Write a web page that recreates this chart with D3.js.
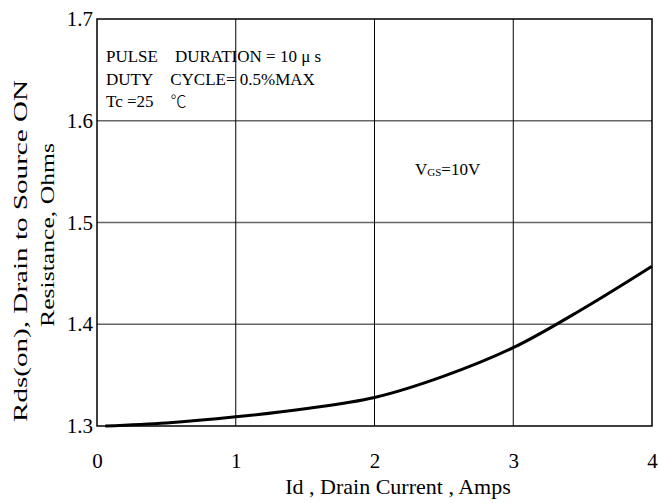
<!DOCTYPE html>
<html>
<head>
<meta charset="utf-8">
<script src="https://cdn.jsdelivr.net/npm/d3@7"></script>
<style>
  body { margin: 0; background: #fff; }
  svg text { font-family: "Liberation Serif", "Times New Roman", serif; fill: #000; }
</style>
</head>
<body>
<div id="chart"></div>
<script>
"use strict";

/* Values */
const xTicks = [0, 1, 2, 3, 4];
const yTicks = [1.3, 1.4, 1.5, 1.6, 1.7];
const drainCurrent = [0.06, 0.5, 1.0, 1.5, 2.0, 2.5, 3.0, 3.5, 4.0];
const rdsOn = [1.300, 1.303, 1.309, 1.317, 1.328, 1.349, 1.377, 1.415, 1.457];

const width = 659, height = 503;
const margin = { top: 19, right: 7, bottom: 77, left: 97 };

const svg = d3.select("#chart")
  .append("svg")
  .attr("width", width)
  .attr("height", height);

const x = d3.scaleLinear()
  .domain([0, 4])
  .range([margin.left, width - margin.right]);

const y = d3.scaleLinear()
  .domain([1.3, 1.7])
  .range([height - margin.bottom, margin.top]);

// grid: horizontal lines grey, vertical ones black
svg.append("g")
  .selectAll("line")
  .data(yTicks.slice(1, -1))
  .enter()
  .append("line")
  .attr("x1", x(0)).attr("x2", x(4))
  .attr("y1", d => y(d)).attr("y2", d => y(d))
  .attr("stroke", "#666")
  .attr("stroke-width", 1.3);

svg.append("g")
  .selectAll("line")
  .data(xTicks.slice(1, -1))
  .enter()
  .append("line")
  .attr("x1", d => x(d)).attr("x2", d => x(d))
  .attr("y1", y(1.3)).attr("y2", y(1.7))
  .attr("stroke", "#000")
  .attr("stroke-width", 1);

// frame
svg.append("rect")
  .attr("x", x(0))
  .attr("y", y(1.7))
  .attr("width", x(4) - x(0))
  .attr("height", y(1.3) - y(1.7))
  .attr("fill", "none")
  .attr("stroke", "#000")
  .attr("stroke-width", 1.5);

// axes, only the labels are kept
const xAxis = svg.append("g")
  .attr("transform", `translate(0,${y(1.3)})`)
  .call(d3.axisBottom(x).tickValues(xTicks).tickFormat(d3.format("d")).tickSize(0).tickPadding(27));
xAxis.select(".domain").remove();
xAxis.selectAll("text")
  .style("font-family", "Liberation Serif, serif")
  .attr("font-size", 21);

const yAxis = svg.append("g")
  .attr("transform", `translate(${x(0)},0)`)
  .call(d3.axisLeft(y).tickValues(yTicks).tickFormat(d3.format(".1f")).tickSize(0).tickPadding(4));
yAxis.select(".domain").remove();
yAxis.selectAll("text")
  .style("font-family", "Liberation Serif, serif")
  .attr("font-size", 21);

// curve
const line = d3.line()
  .x((d, i) => x(drainCurrent[i]))
  .y(d => y(d))
  .curve(d3.curveCatmullRom.alpha(0.5));

svg.append("path")
  .datum(rdsOn)
  .attr("d", line)
  .attr("fill", "none")
  .attr("stroke", "#000")
  .attr("stroke-width", 3);

// axis titles
svg.append("text")
  .attr("x", 398)
  .attr("y", 494)
  .attr("text-anchor", "middle")
  .attr("font-size", 22)
  .text("Id , Drain Current , Amps");

// y title is stretched along its length in the original
svg.append("text")
  .attr("transform", "translate(27,251) rotate(-90)")
  .attr("text-anchor", "middle")
  .attr("font-size", 19)
  .attr("textLength", 342)
  .attr("lengthAdjust", "spacingAndGlyphs")
  .text("Rds(on), Drain to Source ON");

svg.append("text")
  .attr("transform", "translate(54,235) rotate(-90)")
  .attr("text-anchor", "middle")
  .attr("font-size", 19)
  .attr("textLength", 184)
  .attr("lengthAdjust", "spacingAndGlyphs")
  .text("Resistance, Ohms");

// notes
const notes = [
  { t: "PULSE\u00a0\u00a0\u00a0\u00a0DURATION = 10 \u03bc s", y: 62 },
  { t: "DUTY\u00a0\u00a0\u00a0\u00a0CYCLE= 0.5%MAX", y: 85 }
];
svg.append("g")
  .selectAll("text")
  .data(notes)
  .enter()
  .append("text")
  .attr("x", 106)
  .attr("y", d => d.y)
  .attr("font-size", 17)
  .text(d => d.t);

const tc = svg.append("text")
  .attr("x", 106)
  .attr("y", 107)
  .attr("font-size", 17);
tc.append("tspan").text("Tc =25\u00a0\u00a0\u00a0\u00a0");
tc.append("tspan")
  .style("font-family", "'Noto Sans CJK JP', serif")
  .attr("font-size", 16)
  .attr("font-weight", 300)
  .text("\u2103");

const vgs = svg.append("text")
  .attr("x", 415)
  .attr("y", 175)
  .attr("font-size", 17);
vgs.append("tspan").text("V");
vgs.append("tspan").attr("font-size", 11).attr("dy", 1).text("GS");
vgs.append("tspan").attr("dy", -1).text("=10V");
</script>
</body>
</html>
